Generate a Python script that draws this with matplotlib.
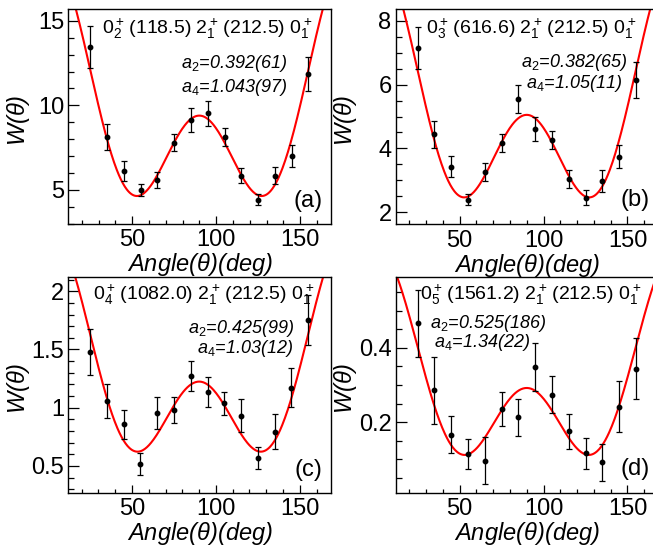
import numpy as np
import matplotlib
matplotlib.use("Agg")
import matplotlib.pyplot as plt
from matplotlib.ticker import MultipleLocator, FormatStrFormatter

plt.rcParams['font.family'] = ['Liberation Sans', 'DejaVu Sans']
plt.rcParams['mathtext.fontset'] = 'custom'
plt.rcParams['mathtext.rm'] = 'Liberation Sans'
plt.rcParams['mathtext.it'] = 'Liberation Sans:italic'

# measured angles (deg)
angles = [25, 35, 45, 55, 65, 75, 85, 95, 105, 115, 125, 135, 145, 155]

# panel (a): 0+_2 (118.5) 2+_1 (212.5) 0+_1
w_a = [13.46, 8.15, 6.12, 5.00, 5.59, 7.80, 9.13, 9.53, 8.13, 5.85, 4.41, 5.85, 7.01, 11.85]
e_a = [1.23, 0.77, 0.58, 0.35, 0.49, 0.49, 0.72, 0.74, 0.54, 0.45, 0.32, 0.52, 0.64, 1.03]
# panel (b): 0+_3 (616.6)
w_b = [7.15, 4.44, 3.43, 2.39, 3.26, 4.18, 5.55, 4.61, 4.26, 3.04, 2.45, 2.98, 3.74, 6.14]
e_b = [0.66, 0.43, 0.33, 0.18, 0.28, 0.28, 0.44, 0.37, 0.27, 0.28, 0.24, 0.35, 0.37, 0.57]
# panel (c): 0+_4 (1082.0)
w_c = [1.477, 1.057, 0.859, 0.520, 0.951, 0.980, 1.273, 1.135, 1.037, 0.931, 0.569, 0.793, 1.172, 1.756]
e_c = [0.200, 0.147, 0.125, 0.095, 0.137, 0.115, 0.127, 0.126, 0.100, 0.142, 0.093, 0.151, 0.168, 0.216]
# panel (d): 0+_5 (1561.2)
w_d = [0.466, 0.286, 0.166, 0.114, 0.096, 0.235, 0.213, 0.348, 0.274, 0.175, 0.116, 0.092, 0.242, 0.344]
e_d = [0.090, 0.090, 0.050, 0.040, 0.063, 0.045, 0.050, 0.065, 0.050, 0.046, 0.042, 0.050, 0.069, 0.083]

# fit results: W = A (1 + a2 P2 + a4 P4)
a2_vals = [0.392, 0.382, 0.425, 0.525]
a4_vals = [1.043, 1.05, 1.03, 1.34]
norms = [7.86, 4.20, 1.043, 0.2355]

titles = [r'$0_2^+\,$(118.5) $2_1^+\,$(212.5) $0_1^+$',
          r'$0_3^+\,$(616.6) $2_1^+\,$(212.5) $0_1^+$',
          r'$0_4^+\,$(1082.0) $2_1^+\,$(212.5) $0_1^+$',
          r'$0_5^+\,$(1561.2) $2_1^+\,$(212.5) $0_1^+$']
a2_text = ['0.392(61)', '0.382(65)', '0.425(99)', '0.525(186)']
a4_text = ['1.043(97)', '1.05(11)', '1.03(12)', '1.34(22)']
tags = ['(a)', '(b)', '(c)', '(d)']

ylims = [(3.0, 15.7), (1.63, 8.37), (0.27, 2.12), (0.01, 0.59)]
ymajor = [5, 2, 0.5, 0.2]
yminor = [1, 0.5, 0.1, 0.05]

W, H = 653, 546
# axes boxes in pixels: left, top, right, bottom
boxes = [(68.3, 9.0, 331.0, 223.7), (395.7, 9.0, 658.4, 224.0),
         (68.3, 277.3, 330.7, 492.7), (395.7, 277.3, 658.4, 492.7)]
title_pos = [(0.528, 0.887), (0.515, 0.887), (0.514, 0.895), (0.514, 0.898)]
a2_pos = [(0.632, 0.723), (0.678, 0.732), (0.657, 0.740), (0.353, 0.763)]
a4_pos = [(0.632, 0.615), (0.678, 0.631), (0.672, 0.647), (0.327, 0.675)]
tag_pos = [(0.911, 0.106), (0.911, 0.112), (0.917, 0.105), (0.911, 0.11)]

data = [(w_a, e_a), (w_b, e_b), (w_c, e_c), (w_d, e_d)]

fig = plt.figure(figsize=(W / 100, H / 100), dpi=100)

th = np.linspace(10, 170, 400)
c = np.cos(np.radians(th))
P2 = 0.5 * (3 * c**2 - 1)
P4 = (35 * c**4 - 30 * c**2 + 3) / 8

for i in range(4):
    l, t, r, b = boxes[i]
    ax = fig.add_axes([l / W, 1 - b / H, (r - l) / W, (b - t) / H])
    w, e = data[i]
    curve = norms[i] * (1 + a2_vals[i] * P2 + a4_vals[i] * P4)
    ax.plot(th, curve, color='#ff0000', lw=1.5, zorder=2)
    ax.errorbar(angles, w, yerr=e, fmt='o', color='black', ms=3.2,
                elinewidth=0.9, capsize=2.2, capthick=0.9, zorder=3)
    ax.set_xlim(12, 168.4)
    ax.set_ylim(*ylims[i])

    ax.xaxis.set_major_locator(MultipleLocator(50))
    ax.xaxis.set_minor_locator(MultipleLocator(10))
    ax.yaxis.set_major_locator(MultipleLocator(ymajor[i]))
    ax.yaxis.set_minor_locator(MultipleLocator(yminor[i]))
    ax.yaxis.set_major_formatter(FormatStrFormatter('%g'))
    ax.tick_params(which='both', direction='in', top=False, right=False,
                   labelsize=17, width=0.9)
    ax.tick_params(axis='x', which='major', length=6, pad=4)
    ax.tick_params(axis='x', which='minor', length=3)
    ax.tick_params(axis='y', which='major', length=8, pad=3)
    ax.tick_params(axis='y', which='minor', length=4)
    for s in ax.spines.values():
        s.set_linewidth(1.0)

    ax.set_xlabel(r'Angle($\theta$)(deg)', fontsize=17, style='italic', labelpad=0)
    ax.set_ylabel(r'W($\theta$)', fontsize=17, style='italic')
    ax.yaxis.set_label_coords(-0.14, 0.483)

    ax.text(title_pos[i][0], title_pos[i][1], titles[i], transform=ax.transAxes,
            ha='center', va='baseline', fontsize=14)
    ax.text(a2_pos[i][0], a2_pos[i][1], r'$a_2$=' + a2_text[i], transform=ax.transAxes,
            ha='center', va='baseline', fontsize=13, style='italic')
    ax.text(a4_pos[i][0], a4_pos[i][1], r'$a_4$=' + a4_text[i], transform=ax.transAxes,
            ha='center', va='baseline', fontsize=13, style='italic')
    ax.text(tag_pos[i][0], tag_pos[i][1], tags[i], transform=ax.transAxes,
            ha='center', va='center', fontsize=17)

fig.savefig('out.png', dpi=100)
